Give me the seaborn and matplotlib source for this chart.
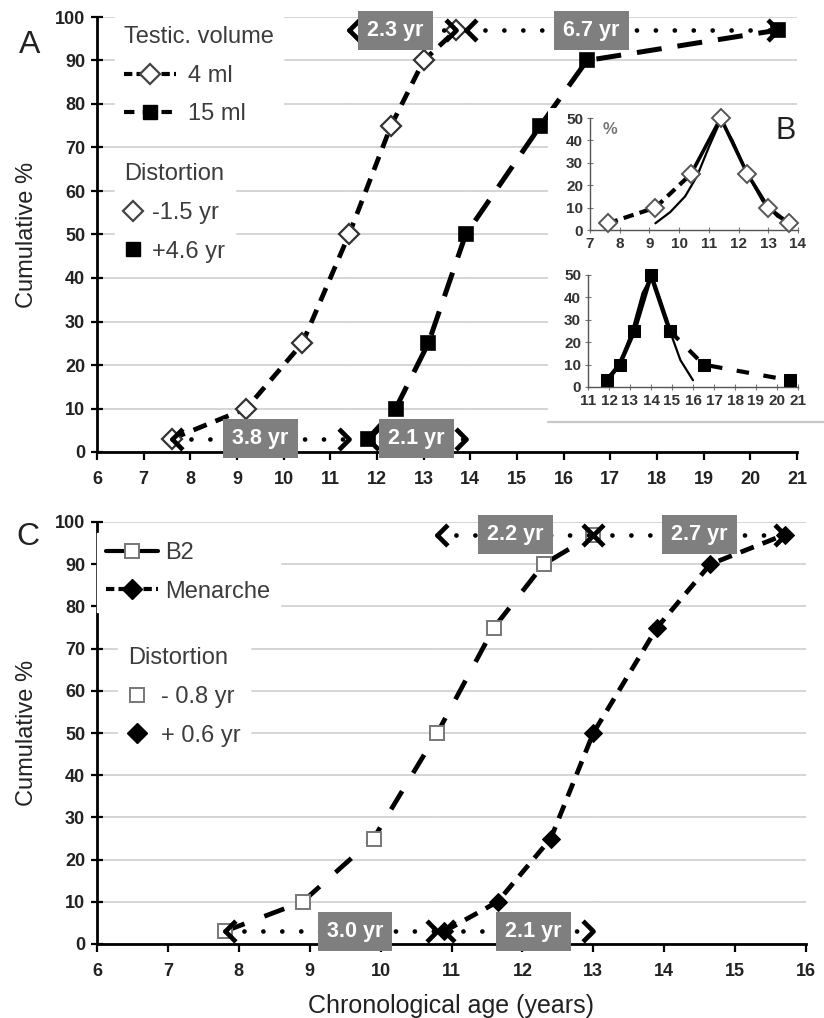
import numpy as np
import pandas as pd
import matplotlib
matplotlib.use("Agg")
import matplotlib.pyplot as plt
import seaborn as sns
from matplotlib.lines import Line2D
from matplotlib.patches import Rectangle
from matplotlib.path import Path

# ---------------- data ----------------
pct = [3, 10, 25, 50, 75, 90, 97]
age_4ml = [7.6, 9.2, 10.4, 11.4, 12.3, 13.0, 13.7]
age_15ml = [11.8, 12.4, 13.1, 13.9, 15.5, 16.5, 20.6]
age_b2 = [7.8, 8.9, 9.9, 10.8, 11.6, 12.3, 13.0]
age_men = [10.9, 11.65, 12.4, 13.0, 13.9, 14.65, 15.7]

freq_pct = [3, 10, 25, 50, 25, 10, 3]
inset_4ml_x = [7.6, 9.2, 10.4, 11.4, 12.3, 13.0, 13.7]
inset_15ml_x = [11.9, 12.5, 13.2, 14.0, 14.9, 16.5, 20.6]
fit_4ml_x = [9.2, 9.7, 10.2, 10.6, 11.0, 11.4, 11.8, 12.3, 12.8, 13.3, 13.7]
fit_4ml_y = [3, 8, 15, 24, 37, 49, 40, 25, 13, 6, 3]
fit_15ml_x = [11.9, 12.5, 13.1, 13.6, 14.0, 14.4, 14.9, 15.4, 16.0]
fit_15ml_y = [3, 10, 25, 42, 49, 40, 25, 12, 3]

labels_A = ["2.3 yr", "6.7 yr", "3.8 yr", "2.1 yr"]
labels_C = ["2.2 yr", "2.7 yr", "3.0 yr", "2.1 yr"]
legend_A = ["4 ml", "15 ml"]
distortion_A = ["-1.5 yr", "+4.6 yr"]
legend_C = ["B2", "Menarche"]
distortion_C = ["- 0.8 yr", "+ 0.6 yr"]
xticks_A = list(range(6, 22))
xticks_C = list(range(6, 17))
yticks = list(range(0, 101, 10))

# ---------------- style ----------------
sns.set_theme(style="white")
plt.rcParams["font.family"] = ["Liberation Sans", "DejaVu Sans"]
TXT = "#3c3c3c"

W, H = 824, 1018
fig = plt.figure(figsize=(W / 100, H / 100), dpi=100)
fig.patch.set_facecolor("white")


def fx(px):
    return px / W


def fy(py):
    return 1 - py / H


axA = fig.add_axes([fx(97), fy(452), fx(797) - fx(97), fy(17) - fy(452)])
axC = fig.add_axes([fx(97), fy(944), fx(806) - fx(97), fy(522) - fy(944)])

LEFT = Path([(1, 1), (0, 0), (1, -1)])
RIGHT = Path([(-1, 1), (0, 0), (-1, -1)])


def style_main(ax, xt):
    ax.set_xlim(xt[0], xt[-1])
    ax.set_ylim(0, 100)
    ax.set_xticks(xt)
    ax.set_yticks(yticks)
    ax.set_xticklabels([str(v) for v in xt], fontsize=13, fontweight="bold", color="#222")
    ax.set_yticklabels([str(v) for v in yticks], fontsize=13, fontweight="bold", color="#222")
    ax.yaxis.grid(True, color="#d2d2d2", lw=1.3)
    ax.xaxis.grid(False)
    for s in ["top", "right"]:
        ax.spines[s].set_visible(False)
    for s in ["left", "bottom"]:
        ax.spines[s].set_color("black")
        ax.spines[s].set_linewidth(2)
    ax.tick_params(axis="y", direction="inout", length=9, width=1.6, color="black", pad=4, left=True)
    ax.tick_params(axis="x", direction="out", length=6, width=1.6, color="black", pad=8, bottom=True)
    ax.set_axisbelow(True)


def span(ax, x0, x1, y, label, xc):
    ax.plot([x0, x1], [y, y], color="black", lw=3.4, ls=(0, (0.01, 4.0)),
            dash_capstyle="round", zorder=6)
    ax.plot([x0], [y], marker=LEFT, ms=15, mew=3.4, color="black", fillstyle="none",
            ls="none", zorder=7)
    ax.plot([x1], [y], marker=RIGHT, ms=15, mew=3.4, color="black", fillstyle="none",
            ls="none", zorder=7)
    ax.text(xc, y, label, ha="center", va="center", color="white", fontsize=15.5,
            fontweight="bold", zorder=8,
            bbox=dict(boxstyle="square,pad=0.42", fc="#7f7f7f", ec="none"))


# ---------------- panel A ----------------
style_main(axA, xticks_A)
for x in [age_4ml[3], age_15ml[3]]:
    axA.vlines(x, 0, 96, color="#888", lw=1.6, ls=(0, (0.01, 2.4)), zorder=3)

sns.lineplot(x=age_4ml, y=pct, ax=axA, sort=False, color="black", lw=3.4,
             linestyle=(0, (3, 2)), marker="D", markersize=10, markerfacecolor="white",
             markeredgecolor="#333", markeredgewidth=1.6, zorder=5)
sns.lineplot(x=age_15ml, y=pct, ax=axA, sort=False, color="black", lw=3.6,
             linestyle=(0, (5, 3.2)), marker="s", markersize=10, markerfacecolor="black",
             markeredgecolor="black", markeredgewidth=1.2, zorder=5)

span(axA, age_4ml[3], age_4ml[6], pct[6], labels_A[0], 12.4)
span(axA, age_15ml[3], age_15ml[6], pct[6], labels_A[1], 16.6)
span(axA, age_4ml[0], age_4ml[3], pct[0], labels_A[2], 9.5)
span(axA, age_15ml[0], age_15ml[3], pct[0], labels_A[3], 12.85)
axA.set_ylabel("Cumulative %", fontsize=17, color="#222", labelpad=12)
axA.set_xlabel("")

hA1 = [Line2D([0, 1], [0, 0], color="black", lw=3, ls=(0, (2, 1)), marker="D", ms=10,
              mfc="white", mec="#444", mew=1.6, markevery=[1]),
       Line2D([0, 1], [0, 0], color="black", lw=3, ls=(0, (2.5, 2)), marker="s", ms=10,
              mfc="black", mec="black", markevery=[1])]
legA1 = axA.legend(hA1, legend_A, title="Testic. volume", loc="upper left",
                   bbox_to_anchor=(0.025, 1.0), borderaxespad=0, fontsize=17,
                   title_fontsize=17, frameon=True, fancybox=False, framealpha=1,
                   edgecolor="white", facecolor="white", handlelength=2.2,
                   handletextpad=0.5, labelspacing=0.7, alignment="left", labelcolor=TXT)
legA1.get_title().set_color(TXT)
axA.add_artist(legA1)
hA2 = [Line2D([], [], ls="none", marker="D", ms=10, mfc="white", mec="#444", mew=1.6),
       Line2D([], [], ls="none", marker="s", ms=10, mfc="black", mec="black")]
legA2 = axA.legend(hA2, distortion_A, title="Distortion", loc="upper left",
                   bbox_to_anchor=(0.025, 0.685), borderaxespad=0, fontsize=17,
                   title_fontsize=17, frameon=True, fancybox=False, framealpha=1,
                   edgecolor="white", facecolor="white", handlelength=0.8,
                   handletextpad=0.4, labelspacing=0.7, alignment="left", labelcolor=TXT)
legA2.get_title().set_color(TXT)

# white backing + frame line for inset B
fig.add_artist(Rectangle((fx(548), fy(421)), 1 - fx(548), fy(108) - fy(421),
                         transform=fig.transFigure, fc="white", ec="none", zorder=1))
fig.add_artist(Line2D([fx(548), 1], [fy(422), fy(422)], transform=fig.transFigure,
                      color="#c8c8c8", lw=1.6, zorder=1))

# ---------------- inset B ----------------
axB1 = fig.add_axes([fx(590), fy(230), fx(798) - fx(590), fy(118) - fy(230)], zorder=2)
axB2 = fig.add_axes([fx(588), fy(387), fx(798) - fx(588), fy(275) - fy(387)], zorder=2)
for ax, lo, hi in [(axB1, 7, 14), (axB2, 11, 21)]:
    ax.set_facecolor("none")
    ax.set_xlim(lo, hi)
    ax.set_ylim(0, 50)
    ax.set_xticks(range(lo, hi + 1))
    ax.set_yticks(range(0, 51, 10))
    ax.set_xticklabels([str(v) for v in range(lo, hi + 1)], fontsize=11,
                       fontweight="bold", color="#333")
    ax.set_yticklabels([str(v) for v in range(0, 51, 10)], fontsize=11,
                       fontweight="bold", color="#333")
    for s in ["top", "right"]:
        ax.spines[s].set_visible(False)
    for s in ["left", "bottom"]:
        ax.spines[s].set_color("#555")
        ax.spines[s].set_linewidth(1.0)
    ax.tick_params(axis="both", direction="inout", length=4, width=0.8, color="#777", pad=3,
                   left=True, bottom=True)
    ax.grid(False)

sns.lineplot(x=fit_4ml_x, y=fit_4ml_y, ax=axB1, sort=False, color="black", lw=1.6, zorder=3)
sns.lineplot(x=inset_4ml_x[:3], y=freq_pct[:3], ax=axB1, sort=False, color="black", lw=3,
             linestyle=(0, (2.5, 1.5)), zorder=4)
sns.lineplot(x=inset_4ml_x[2:], y=freq_pct[2:], ax=axB1, sort=False, color="black", lw=2.6,
             marker="D", markersize=9, markerfacecolor="white", markeredgecolor="#555",
             markeredgewidth=1.4, zorder=4, clip_on=False)
sns.lineplot(x=inset_4ml_x[:2], y=freq_pct[:2], ax=axB1, sort=False, color="black", lw=0,
             marker="D", markersize=9, markerfacecolor="white", markeredgecolor="#555",
             markeredgewidth=1.4, zorder=5, clip_on=False)

sns.lineplot(x=fit_15ml_x, y=fit_15ml_y, ax=axB2, sort=False, color="black", lw=1.6, zorder=3)
sns.lineplot(x=inset_15ml_x[:5], y=freq_pct[:5], ax=axB2, sort=False, color="black", lw=3.2,
             marker="s", markersize=9, markerfacecolor="black", markeredgecolor="black",
             zorder=4, clip_on=False)
sns.lineplot(x=inset_15ml_x[4:], y=freq_pct[4:], ax=axB2, sort=False, color="black", lw=3,
             linestyle=(0, (3, 3.5)), marker="s", markersize=9, markerfacecolor="black",
             markeredgecolor="black", zorder=4, clip_on=False)
for ax in (axB1, axB2):
    ax.set_xlabel("")
    ax.set_ylabel("")
axB1.text(0.06, 0.9, "%", transform=axB1.transAxes, fontsize=12, fontweight="bold",
          color="#777", va="center", ha="left")
fig.text(fx(786), fy(131), "B", fontsize=22, color="#222", ha="center", va="center")

# ---------------- panel C ----------------
style_main(axC, xticks_C)
for x in [age_b2[3], age_men[3]]:
    axC.vlines(x, 0, 96, color="#888", lw=1.6, ls=(0, (0.01, 2.4)), zorder=3)

sns.lineplot(x=age_b2, y=pct, ax=axC, sort=False, color="black", lw=3.4,
             linestyle=(0, (4.5, 4.5)), marker="s", markersize=10, markerfacecolor="white",
             markeredgecolor="#777", markeredgewidth=1.4, zorder=5)
sns.lineplot(x=age_men, y=pct, ax=axC, sort=False, color="black", lw=3.4,
             linestyle=(0, (3, 2)), marker="D", markersize=9, markerfacecolor="black",
             markeredgecolor="black", zorder=5)

span(axC, age_b2[3], age_b2[6], pct[6], labels_C[0], 11.9)
span(axC, age_men[3], age_men[6], pct[6], labels_C[1], 14.5)
span(axC, age_b2[0], age_b2[3], pct[0], labels_C[2], 9.64)
span(axC, age_men[0], age_men[3], pct[0], labels_C[3], 12.16)
axC.set_ylabel("Cumulative %", fontsize=17, color="#222", labelpad=12)
axC.set_xlabel("Chronological age (years)", fontsize=18, color="#222", labelpad=10)

hC1 = [Line2D([0, 1], [0, 0], color="black", lw=3, ls="-", marker="s", ms=10, mfc="white",
              mec="#777", mew=1.4, markevery=[1]),
       Line2D([0, 1], [0, 0], color="black", lw=3, ls=(0, (2, 1)), marker="D", ms=10,
              mfc="black", mec="black", markevery=[1])]
legC1 = axC.legend(hC1, legend_C, loc="upper left", bbox_to_anchor=(0.0, 0.975),
                   borderaxespad=0, fontsize=17, frameon=True, fancybox=False, framealpha=1,
                   edgecolor="white", facecolor="white", handlelength=2.2,
                   handletextpad=0.3, labelspacing=0.7, labelcolor=TXT, numpoints=1)
axC.add_artist(legC1)
hC2 = [Line2D([], [], ls="none", marker="s", ms=10, mfc="white", mec="#777", mew=1.4),
       Line2D([], [], ls="none", marker="D", ms=10, mfc="black", mec="black")]
legC2 = axC.legend(hC2, distortion_C, title="Distortion", loc="upper left",
                   bbox_to_anchor=(0.03, 0.725), borderaxespad=0, fontsize=17,
                   title_fontsize=17, frameon=True, fancybox=False, framealpha=1,
                   edgecolor="white", facecolor="white", handlelength=0.8,
                   handletextpad=0.6, labelspacing=0.7, alignment="left", labelcolor=TXT)
legC2.get_title().set_color(TXT)

fig.text(fx(30), fy(45), "A", fontsize=23, color="#222", ha="center", va="center")
fig.text(fx(28), fy(537), "C", fontsize=23, color="#222", ha="center", va="center")

fig.savefig("out.png", dpi=100, facecolor="white")
